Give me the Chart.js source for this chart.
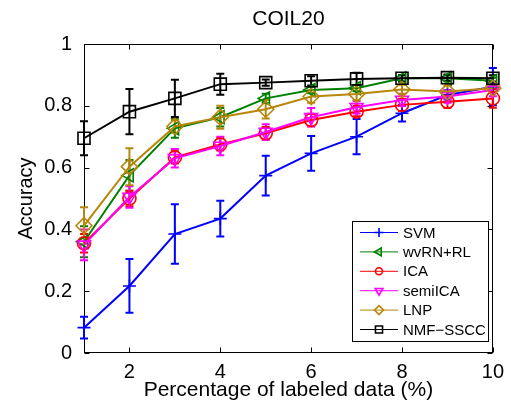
<!DOCTYPE html>
<html>
<head>
<meta charset="utf-8">
<script src="https://cdn.jsdelivr.net/npm/chart.js@4/dist/chart.umd.min.js"></script>
<style>
html,body{margin:0;padding:0;background:#fff;}
canvas{display:block;}
</style>
</head>
<body>
<canvas id="c" width="511" height="401"></canvas>
<script>
// ---- data ----
const xVals = [1, 2, 3, 4, 5, 6, 7, 8, 9, 10];
const xTicks = [2, 4, 6, 8, 10];
const yTicks = [0, 0.2, 0.4, 0.6, 0.8, 1];
const seriesNames = ['SVM', 'wvRN+RL', 'ICA', 'semiICA', 'LNP', 'NMF\u2212SSCC'];

const svm     = [0.082, 0.217, 0.385, 0.435, 0.574, 0.646, 0.700, 0.776, 0.835, 0.862];
const svmErr  = [0.035, 0.087, 0.096, 0.058, 0.064, 0.056, 0.057, 0.027, 0.015, 0.060];
const wvrn    = [0.360, 0.575, 0.727, 0.763, 0.824, 0.851, 0.857, 0.889, 0.889, 0.881];
const wvrnErr = [0.050, 0.050, 0.030, 0.030, 0.015, 0.010, 0.010, 0.010, 0.010, 0.010];
const ica     = [0.355, 0.500, 0.633, 0.675, 0.711, 0.754, 0.781, 0.803, 0.813, 0.824];
const icaErr  = [0.030, 0.025, 0.020, 0.020, 0.020, 0.020, 0.015, 0.020, 0.020, 0.030];
const semi    = [0.350, 0.505, 0.630, 0.670, 0.715, 0.763, 0.795, 0.819, 0.830, 0.851];
const semiErr = [0.050, 0.035, 0.030, 0.030, 0.025, 0.030, 0.020, 0.020, 0.020, 0.020];
const lnp     = [0.412, 0.603, 0.733, 0.763, 0.789, 0.830, 0.838, 0.853, 0.846, 0.857];
const lnpErr  = [0.060, 0.060, 0.020, 0.037, 0.030, 0.020, 0.020, 0.015, 0.020, 0.010];
const nmf     = [0.695, 0.781, 0.824, 0.870, 0.875, 0.881, 0.887, 0.889, 0.891, 0.889];
const nmfErr  = [0.055, 0.073, 0.060, 0.034, 0.010, 0.015, 0.020, 0.010, 0.010, 0.010];

// ---- styles ----
const values = [svm, wvrn, ica, semi, lnp, nmf];
const errors = [svmErr, wvrnErr, icaErr, semiErr, lnpErr, nmfErr];
const colors = ['#0000ff', '#008000', '#ff0000', '#ff00ff', '#b8860b', '#000000'];
const styles = [
  {pointStyle: 'cross', rotation: 0, radius: 6.5, lr: 4.5},
  {pointStyle: 'triangle', rotation: -90, radius: 7.5, lr: 4.5},
  {pointStyle: 'circle', rotation: 0, radius: 6.5, lr: 3.5},
  {pointStyle: 'triangle', rotation: 180, radius: 7.5, lr: 4.5},
  {pointStyle: 'rectRot', rotation: 0, radius: 8, lr: 4.5},
  {pointStyle: 'rect', rotation: 0, radius: 8.5, lr: 5}
];

const FONT = "'Liberation Sans', Arial, Helvetica, sans-serif";

const datasets = values.map((vals, k) => ({
  label: seriesNames[k],
  data: xVals.map((x, i) => ({x: x, y: vals[i]})),
  borderColor: colors[k],
  borderWidth: 2,
  pointStyle: styles[k].pointStyle,
  pointRotation: styles[k].rotation,
  pointRadius: styles[k].radius,
  pointBorderColor: colors[k],
  pointBackgroundColor: 'rgba(0,0,0,0)',
  pointBorderWidth: 1.6,
  tension: 0,
  clip: false,
  order: 10 - k
}));

const frame = {
  id: 'frame',
  beforeDatasetsDraw(chart) {
    const ctx = chart.ctx;
    const a = chart.chartArea;
    const xs = chart.scales.x, ys = chart.scales.y;
    ctx.save();
    ctx.strokeStyle = '#000';
    ctx.lineWidth = 1;
    const L = Math.round(a.left) + 0.5, R = Math.round(a.right) - 0.5;
    const T = Math.round(a.top) + 0.5, B = Math.round(a.bottom) - 0.5;
    ctx.strokeRect(L, T, R - L, B - T);
    ctx.beginPath();
    const tl = 5;
    xTicks.forEach(v => {
      const px = Math.round(xs.getPixelForValue(v)) + 0.5;
      ctx.moveTo(px, B); ctx.lineTo(px, B - tl);
      ctx.moveTo(px, T); ctx.lineTo(px, T + tl);
    });
    yTicks.forEach(v => {
      const py = Math.round(ys.getPixelForValue(v)) + 0.5;
      ctx.moveTo(L, py); ctx.lineTo(L + tl, py);
      ctx.moveTo(R, py); ctx.lineTo(R - tl, py);
    });
    ctx.stroke();
    // error bars
    const cap = 4;
    values.forEach((vals, k) => {
      ctx.strokeStyle = colors[k];
      ctx.lineWidth = 2;
      ctx.beginPath();
      vals.forEach((v, i) => {
        const px = xs.getPixelForValue(xVals[i]);
        const top = ys.getPixelForValue(v + errors[k][i]);
        const bot = ys.getPixelForValue(v - errors[k][i]);
        ctx.moveTo(px, top); ctx.lineTo(px, bot);
        ctx.moveTo(px - cap, top); ctx.lineTo(px + cap, top);
        ctx.moveTo(px - cap, bot); ctx.lineTo(px + cap, bot);
      });
      ctx.stroke();
    });
    ctx.restore();
  },
  afterDraw(chart) {
    const ctx = chart.ctx;
    ctx.save();
    // legend box
    const bx = 352.5, by = 221.5, bw = 136, bh = 120;
    ctx.fillStyle = '#fff';
    ctx.fillRect(bx, by, bw, bh);
    ctx.strokeStyle = '#000';
    ctx.lineWidth = 1;
    ctx.strokeRect(bx, by, bw, bh);
    ctx.font = '15px ' + FONT;
    ctx.textBaseline = 'middle';
    ctx.textAlign = 'left';
    seriesNames.forEach((name, k) => {
      const y = 232.5 + k * 19.4;
      ctx.strokeStyle = colors[k];
      ctx.lineWidth = 1;
      ctx.beginPath();
      ctx.moveTo(360, y); ctx.lineTo(398, y);
      ctx.stroke();
      ctx.lineWidth = 1.6;
      ctx.fillStyle = 'rgba(255,255,255,0)';
      Chart.helpers.drawPoint(ctx, {
        pointStyle: styles[k].pointStyle,
        rotation: styles[k].rotation,
        radius: styles[k].lr,
        borderWidth: 1.6
      }, 379, y);
      ctx.fillStyle = '#000';
      ctx.fillText(name, 403, y + 1);
    });
    ctx.restore();
  }
};

new Chart(document.getElementById('c'), {
  type: 'line',
  data: {datasets: datasets},
  plugins: [frame],
  options: {
    responsive: false,
    animation: false,
    events: [],
    layout: {padding: {left: 0, right: 18, top: 0, bottom: 0}},
    plugins: {
      legend: {display: false},
      tooltip: {enabled: false},
      title: {
        display: true,
        text: 'COIL20',
        fullSize: false,
        color: '#000',
        font: {family: FONT, size: 21, weight: 'normal', lineHeight: 1.2},
        padding: {top: 7, bottom: 11.8}
      }
    },
    scales: {
      x: {
        type: 'linear',
        min: 1, max: 10,
        afterBuildTicks: s => { s.ticks = xTicks.map(v => ({value: v})); },
        afterFit: s => { s.height = 48; },
        grid: {display: false, drawTicks: false},
        border: {display: false},
        ticks: {color: '#000', padding: 7, maxRotation: 0, font: {family: FONT, size: 20}},
        title: {display: true, text: 'Percentage of labeled data (%)', color: '#000',
          font: {family: FONT, size: 21, lineHeight: 1}, padding: {top: 0, bottom: 0}}
      },
      y: {
        type: 'linear',
        min: 0, max: 1,
        afterBuildTicks: s => { s.ticks = yTicks.map(v => ({value: v})); },
        afterFit: s => { s.width = 84; },
        grid: {display: false, drawTicks: false},
        border: {display: false},
        ticks: {color: '#000', padding: 12, font: {family: FONT, size: 20},
          callback: v => String(Math.round(v * 10) / 10)},
        title: {display: true, text: 'Accuracy', color: '#000',
          font: {family: FONT, size: 20, lineHeight: 1}, padding: {top: 16, bottom: 0}}
      }
    }
  }
});
</script>
</body>
</html>
